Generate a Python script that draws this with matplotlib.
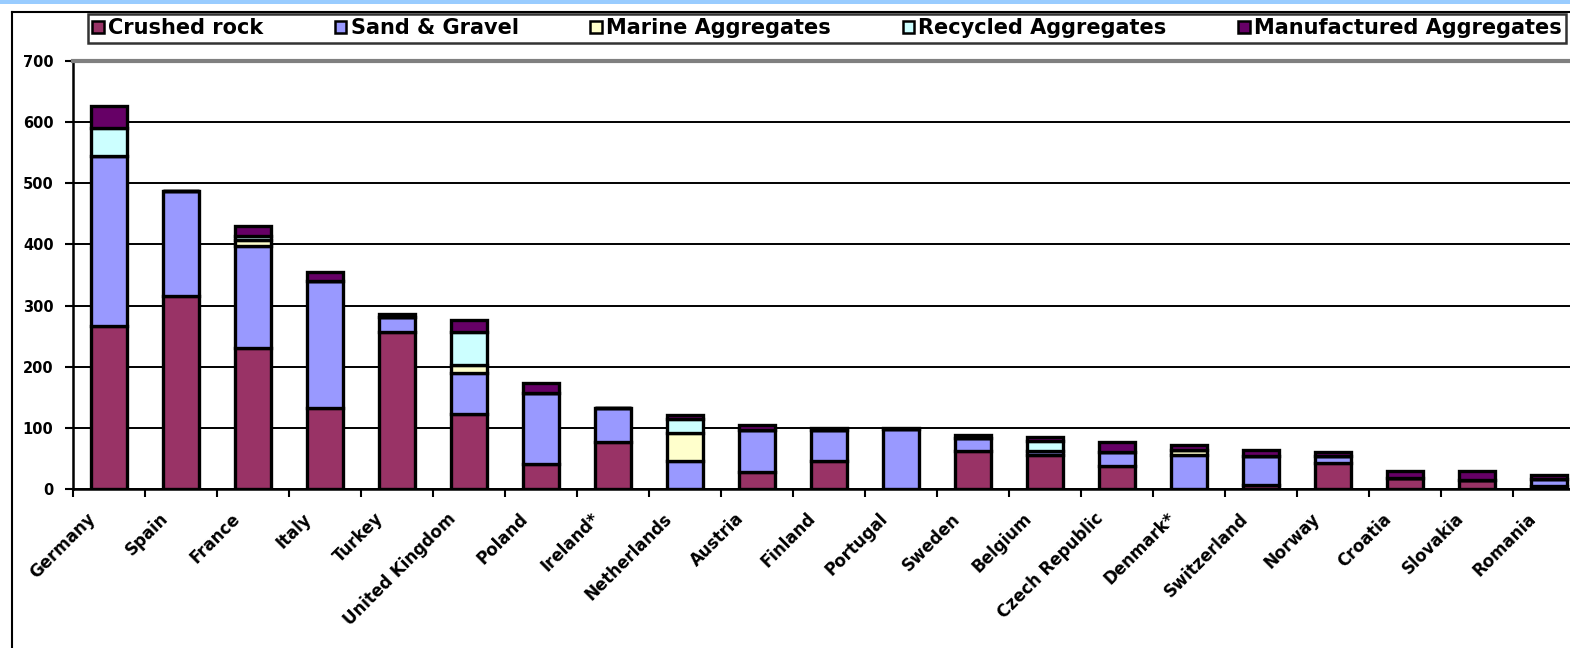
import numpy as np
import matplotlib.pyplot as plt
import matplotlib.transforms as mtransforms
from matplotlib.patches import Patch, Rectangle
from matplotlib.lines import Line2D

# ---------------------------------------------------------------- data
countries = ['Germany', 'Spain', 'France', 'Italy', 'Turkey', 'United Kingdom',
             'Poland', 'Ireland*', 'Netherlands', 'Austria', 'Finland', 'Portugal',
             'Sweden', 'Belgium', 'Czech Republic', 'Denmark*', 'Switzerland',
             'Norway', 'Croatia', 'Slovakia', 'Romania']

crushed_rock = [266, 315, 231, 133, 257, 122, 41, 77, 0, 28, 46, 0,
                62, 55, 38, 0, 7, 43, 18, 14, 5]
sand_gravel = [278, 172, 166, 207, 25, 67, 116, 56, 45, 68, 50, 98,
               22, 7, 23, 55, 47, 11, 0, 0, 12]
marine = [0, 0, 10, 0, 0, 14, 0, 0, 47, 0, 0, 0,
          0, 0, 0, 8, 0, 0, 0, 0, 0]
recycled = [47, 0, 7, 0, 0, 53, 0, 0, 23, 0, 0, 0,
            0, 17, 0, 0, 0, 0, 0, 0, 0]
manufactured = [35, 0, 16, 15, 5, 20, 16, 0, 6, 9, 4, 2,
                5, 6, 16, 9, 10, 7, 11, 15, 6]

series_names = ['Crushed rock', 'Sand & Gravel', 'Marine Aggregates',
                'Recycled Aggregates', 'Manufactured Aggregates']
series_colors = ['#993366', '#9999FF', '#FFFFCC', '#CCFFFF', '#660066']

# ---------------------------------------------------------------- figure
W, H = 1570, 648
fig = plt.figure(figsize=(W / 100, H / 100), dpi=100)
ax = fig.add_axes([73 / W, 1 - 489 / H, 72 * 21 / W, 428 / H])

x = np.arange(len(countries))
bottom = np.zeros(len(countries))
for name, vals, col in zip(series_names,
                           [crushed_rock, sand_gravel, marine, recycled, manufactured],
                           series_colors):
    vals = np.array(vals, dtype=float)
    ax.bar(x, vals, 0.5, bottom=bottom, color=col, edgecolor='black',
           linewidth=2.4, zorder=3)
    bottom += vals

ax.set_xlim(-0.5, len(countries) - 0.5)
ax.set_ylim(0, 700)
ax.set_yticks(np.arange(0, 701, 100))
ax.tick_params(axis='y', direction='out', length=6, width=1.5, pad=8)
for lab in ax.get_yticklabels():
    lab.set_fontweight('bold')
    lab.set_fontsize(10.5)

# category labels, slanted, ending a bit left of each bar centre
ax.set_xticks(x)
ax.set_xticklabels(countries, rotation=45, ha='right', va='center',
                   rotation_mode='anchor', fontsize=12, fontweight='bold')
ax.tick_params(axis='x', which='major', length=0, pad=0)
shift = mtransforms.ScaledTranslation(-0.16, -0.27, fig.dpi_scale_trans)
for lab in ax.get_xticklabels():
    lab.set_transform(lab.get_transform() + shift)
ax.set_xticks(np.arange(-0.5, len(countries)), minor=True)
ax.tick_params(axis='x', which='minor', direction='out', length=6, width=1.5)

ax.yaxis.grid(True, color='black', linewidth=1.4, zorder=0)
ax.set_axisbelow(True)
ax.spines['right'].set_visible(False)
ax.spines['top'].set_color('#808080')
ax.spines['top'].set_linewidth(3)
ax.spines['left'].set_linewidth(1.8)
ax.spines['bottom'].set_linewidth(1.8)

# ---------------------------------------------------------------- frame
fig.add_artist(Line2D([12 / W, 12 / W], [0, 1 - 12 / H], color='black', lw=1.5))
fig.add_artist(Line2D([12 / W, 1], [1 - 12 / H, 1 - 12 / H], color='black', lw=1.5))
fig.add_artist(Rectangle((0, 1 - 4 / H), 1, 4 / H, color='#99CCFF', lw=0))

handles = [Patch(facecolor=c, edgecolor='black', linewidth=1.8) for c in series_colors]
leg = fig.legend(handles, series_names, ncol=5, loc='center',
                 bbox_to_anchor=(88 / W, 1 - 46 / H, (1566 - 88) / W, 35 / H),
                 mode='expand', frameon=True, fancybox=False, edgecolor='black',
                 prop={'weight': 'bold', 'size': 15}, handlelength=0.55,
                 handleheight=0.55, handletextpad=0.2, borderpad=0.2,
                 borderaxespad=0)
leg.get_frame().set_linewidth(1.8)

fig.savefig('out.png', dpi=100)
